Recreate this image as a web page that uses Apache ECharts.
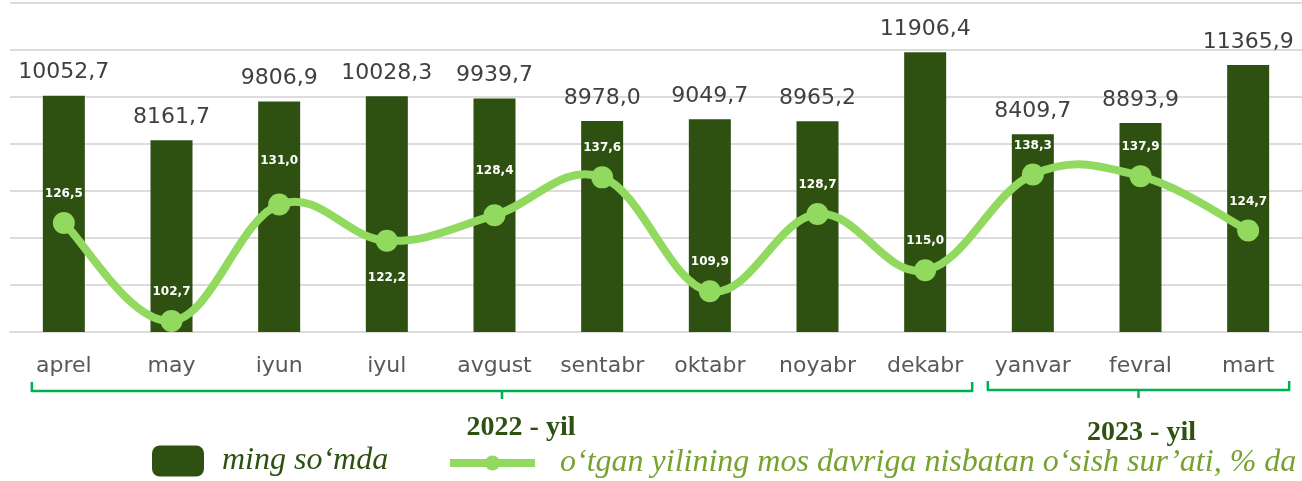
<!DOCTYPE html>
<html>
<head>
<meta charset="utf-8">
<script src="https://cdn.jsdelivr.net/npm/echarts@6/dist/echarts.min.js"></script>
<style>
  html, body { margin: 0; padding: 0; background: #fff; }
  #chart { width: 1302px; height: 481px; }
</style>
</head>
<body>
<div id="chart"></div>
<script>
// values
const months = ['aprel', 'may', 'iyun', 'iyul', 'avgust', 'sentabr', 'oktabr', 'noyabr', 'dekabr', 'yanvar', 'fevral', 'mart'];
const amounts = [10052.7, 8161.7, 9806.9, 10028.3, 9939.7, 8978.0, 9049.7, 8965.2, 11906.4, 8409.7, 8893.9, 11365.9];
const growth = [126.5, 102.7, 131.0, 122.2, 128.4, 137.6, 109.9, 128.7, 115.0, 138.3, 137.9, 124.7];
const yearLabels = ['2022 - yil', '2023 - yil'];
const barName = 'ming so‘mda';
const lineName = 'o‘tgan yilining mos davriga nisbatan o‘sish sur’ati, % da';

const DARK = '#2e5111';
const LIGHT = '#92d95f';
const BRACKET = '#00b050';
const fmt = (v) => v.toFixed(1).replace('.', ',');

// a few line labels sit a bit off the usual spot
const labelTweaks = {
  2: { distance: 27 },
  3: { position: 'bottom', distance: 20 },
  4: { distance: 27 }
};

// excel-like smooth curve (overshoots between points, echarts' own smoothing doesn't)
function curvePath(pts, k) {
  let d = 'M' + pts[0][0] + ' ' + pts[0][1];
  for (let i = 0; i < pts.length - 1; i++) {
    const p0 = pts[Math.max(i - 1, 0)];
    const p1 = pts[i];
    const p2 = pts[i + 1];
    const p3 = pts[Math.min(i + 2, pts.length - 1)];
    const c1x = p1[0] + (p2[0] - p0[0]) * k;
    const c1y = p1[1] + (p2[1] - p0[1]) * k;
    const c2x = p2[0] - (p3[0] - p1[0]) * k;
    const c2y = p2[1] - (p3[1] - p1[1]) * k;
    d += ' C' + c1x + ' ' + c1y + ' ' + c2x + ' ' + c2y + ' ' + p2[0] + ' ' + p2[1];
  }
  return d;
}

const chart = echarts.init(document.getElementById('chart'));

const option = {
  animation: false,
  grid: { left: 10, right: 0, top: 3, bottom: 149 },
  legend: [
    {
      data: [barName],
      left: 152,
      top: 445,
      padding: 0,
      icon: 'roundRect',
      itemWidth: 52,
      itemHeight: 31,
      selectedMode: false,
      textStyle: {
        fontFamily: 'Liberation Serif',
        fontStyle: 'italic',
        fontSize: 32,
        color: DARK,
        padding: [0, 0, 0, 13]
      }
    },
    {
      data: [lineName],
      left: 446,
      top: 447,
      padding: 0,
      itemWidth: 85,
      itemHeight: 19,
      selectedMode: false,
      lineStyle: { width: 8, color: LIGHT, opacity: 1 },
      textStyle: {
        fontFamily: 'Liberation Serif',
        fontStyle: 'italic',
        fontSize: 32,
        color: '#77a22f',
        padding: [0, 0, 0, 20]
      }
    }
  ],
  xAxis: {
    type: 'category',
    data: months,
    axisTick: { show: false },
    axisLine: { lineStyle: { color: '#dcdcdc', width: 2 } },
    axisLabel: {
      interval: 0,
      color: '#595959',
      fontFamily: 'DejaVu Sans',
      fontSize: 22,
      margin: 23
    }
  },
  yAxis: [
    {
      type: 'value',
      min: 0,
      max: 14000,
      interval: 2000,
      axisLabel: { show: false },
      axisLine: { show: false },
      axisTick: { show: false },
      splitLine: { lineStyle: { color: '#dcdcdc', width: 2 } }
    },
    {
      type: 'value',
      min: 100,
      max: 180,
      interval: 10,
      axisLabel: { show: false },
      axisLine: { show: false },
      axisTick: { show: false },
      splitLine: { show: false }
    }
  ],
  series: [
    {
      name: barName,
      type: 'bar',
      data: amounts,
      barWidth: 42,
      itemStyle: { color: DARK },
      z: 2,
      label: {
        show: true,
        position: 'top',
        distance: 12,
        color: '#404040',
        fontFamily: 'DejaVu Sans',
        fontSize: 22,
        formatter: (p) => fmt(p.value)
      }
    },
    {
      name: 'curve',
      type: 'custom',
      yAxisIndex: 1,
      silent: true,
      z: 5,
      data: growth.map((v, i) => [i, v]),
      renderItem: (params, api) => {
        if (params.dataIndex !== 0) return null;
        const pts = growth.map((v, i) => api.coord([i, v]));
        return {
          type: 'path',
          shape: { pathData: curvePath(pts, 0.19) },
          style: { stroke: LIGHT, lineWidth: 8, fill: null, lineCap: 'round', lineJoin: 'round' }
        };
      }
    },
    {
      name: lineName,
      type: 'line',
      yAxisIndex: 1,
      data: growth.map((v, i) => labelTweaks[i] ? { value: v, label: labelTweaks[i] } : v),
      symbol: 'circle',
      symbolSize: 22,
      lineStyle: { color: LIGHT, width: 8, opacity: 0 },
      itemStyle: { color: LIGHT },
      z: 6,
      label: {
        show: true,
        position: 'top',
        distance: 12,
        color: '#ffffff',
        fontFamily: 'DejaVu Sans',
        fontWeight: 'bold',
        fontSize: 12,
        formatter: (p) => fmt(p.value)
      }
    }
  ]
};

chart.setOption(option);

// year brackets under the month labels
const cx = (i) => chart.convertToPixel({ xAxisIndex: 0 }, i);
function bracket(x1, x2, yLine, text, textX, textY) {
  const mid = (x1 + x2) / 2;
  return [
    {
      type: 'polyline',
      shape: { points: [[x1, yLine - 9], [x1, yLine], [x2, yLine], [x2, yLine - 9]] },
      style: { stroke: BRACKET, lineWidth: 2.5, fill: null, lineJoin: 'round' }
    },
    {
      type: 'line',
      shape: { x1: mid, y1: yLine, x2: mid, y2: yLine + 8 },
      style: { stroke: BRACKET, lineWidth: 2.5 }
    },
    {
      type: 'text',
      x: mid + textX,
      y: textY,
      style: {
        text: text,
        align: 'center',
        verticalAlign: 'middle',
        font: 'bold 28px "Liberation Serif"',
        fill: DARK
      }
    }
  ];
}

chart.setOption({
  graphic: [
    ...bracket(cx(0) - 32, cx(8) + 47, 391, yearLabels[0], 19, 428),
    ...bracket(cx(9) - 45, cx(11) + 41, 390, yearLabels[1], 3, 433)
  ]
});
</script>
</body>
</html>
